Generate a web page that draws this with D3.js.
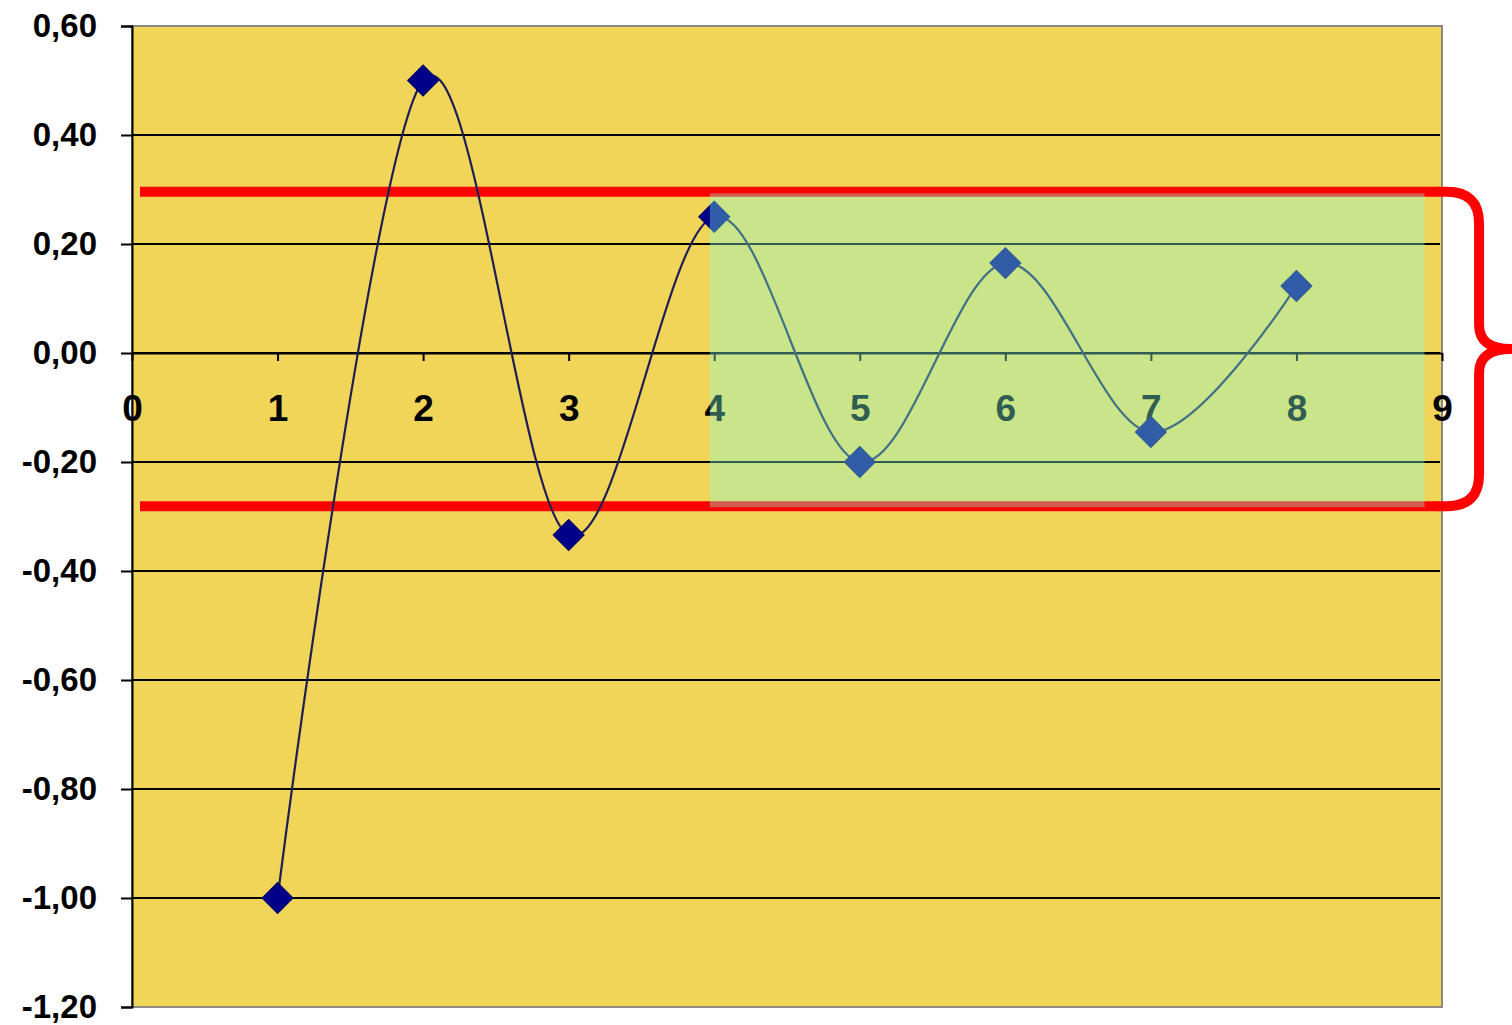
<!DOCTYPE html>
<html>
<head>
<meta charset="utf-8">
<script src="https://cdn.jsdelivr.net/npm/d3@7"></script>
<style>
  html, body { margin: 0; padding: 0; background: #ffffff; }
  svg { display: block; }
  .tick text { font-family: "Liberation Sans", Arial, sans-serif; font-weight: bold; fill: #000; }
</style>
</head>
<body>
<script>
// data
var xValues = [1, 2, 3, 4, 5, 6, 7, 8];
var yValues = [-1.00, 0.50, -0.334, 0.25, -0.20, 0.165, -0.145, 0.123];
var yTicks = [0.6, 0.4, 0.2, 0, -0.2, -0.4, -0.6, -0.8, -1.0, -1.2];
var xTicks = [0, 1, 2, 3, 4, 5, 6, 7, 8, 9];
var bandLimits = [0.296, -0.281];      // red limit lines
var bandXRange = [0.055, 8.98];        // extent of the red lines
var zoneX = [3.97, 8.88];              // green zone
var zoneY = [0.293, -0.283];

var width = 1512, height = 1025;
var margin = { top: 26, right: 70, bottom: 18, left: 132 };

var svg = d3.select("body").append("svg")
    .attr("width", width)
    .attr("height", height);

var xScale = d3.scaleLinear()
    .domain([0, 9])
    .range([margin.left, width - margin.right]);

var yScale = d3.scaleLinear()
    .domain([-1.2, 0.6])
    .range([height - margin.bottom, margin.top]);

var fmt = d3.formatLocale({ decimal: ",", thousands: ".", grouping: [3], currency: ["", ""], minus: "-" }).format(".2f");

// plot area
svg.append("rect")
    .attr("x", xScale(0))
    .attr("y", yScale(0.6))
    .attr("width", xScale(9) - xScale(0))
    .attr("height", yScale(-1.2) - yScale(0.6))
    .attr("fill", "#f1d559")
    .attr("stroke", "#8c8a80")
    .attr("stroke-width", 2);

// gridlines
svg.append("g")
  .selectAll("line")
  .data(yTicks.filter(function(d) { return d < 0.59 && d > -1.19; }))
  .enter()
  .append("line")
    .attr("x1", xScale(0))
    .attr("x2", xScale(9) - 2)
    .attr("y1", function(d) { return yScale(d); })
    .attr("y2", function(d) { return yScale(d); })
    .attr("stroke", "#000")
    .attr("stroke-width", 2);

// y axis
var yAxis = d3.axisLeft(yScale)
    .tickValues(yTicks)
    .tickFormat(fmt)
    .tickSize(11)
    .tickPadding(24);

var gy = svg.append("g")
    .attr("transform", "translate(" + xScale(0) + ",0)")
    .call(yAxis);
gy.select(".domain").attr("stroke", "#000").attr("stroke-width", 2);
gy.selectAll(".tick line").attr("stroke", "#000").attr("stroke-width", 2);
gy.selectAll(".tick text").style("font-size", "33px").attr("dy", "0.33em");

// x axis through zero
var xAxis = d3.axisBottom(xScale)
    .tickValues(xTicks)
    .tickFormat(d3.format("d"))
    .tickSizeInner(8)
    .tickSizeOuter(0)
    .tickPadding(34);

var gx = svg.append("g")
    .attr("transform", "translate(0," + yScale(0) + ")")
    .call(xAxis);
gx.select(".domain").attr("stroke", "#000").attr("stroke-width", 2);
gx.selectAll(".tick line").attr("stroke", "#000").attr("stroke-width", 2);
gx.selectAll(".tick text").style("font-size", "37px");

// red limit lines
svg.append("g")
  .selectAll("line")
  .data(bandLimits)
  .enter()
  .append("line")
    .attr("x1", xScale(bandXRange[0]))
    .attr("x2", xScale(bandXRange[1]))
    .attr("y1", function(d) { return yScale(d); })
    .attr("y2", function(d) { return yScale(d); })
    .attr("stroke", "#ff0000")
    .attr("stroke-width", 10);

// smoothed series
var line = d3.line()
    .x(function(d, i) { return xScale(xValues[i]); })
    .y(function(d) { return yScale(d); })
    .curve(d3.curveCardinal.tension(0));

svg.append("path")
    .datum(yValues)
    .attr("d", line)
    .attr("fill", "none")
    .attr("stroke", "#1e1e55")
    .attr("stroke-width", 2.2);

// diamond markers
svg.append("g")
  .selectAll("path")
  .data(yValues)
  .enter()
  .append("path")
    .attr("d", d3.symbol(d3.symbolSquare, 480))
    .attr("transform", function(d, i) {
      return "translate(" + xScale(xValues[i]) + "," + yScale(d) + ") rotate(45)";
    })
    .attr("fill", "#000088")
    .attr("stroke", "#000066")
    .attr("stroke-width", 1);

// curly brace on the right
var bx0 = xScale(bandXRange[1]) - 2;
var yTop = yScale(bandLimits[0]), yBot = yScale(bandLimits[1]);
var yMid = (yTop + yBot) / 2;
var bx = bx0 + 42, tip = bx0 + 74, r = 32;
var brace = d3.path();
brace.moveTo(bx0, yTop);
brace.lineTo(bx - r, yTop);
brace.quadraticCurveTo(bx, yTop, bx, yTop + r);
brace.lineTo(bx, yMid - 24);
brace.quadraticCurveTo(bx, yMid, tip, yMid);
brace.quadraticCurveTo(bx, yMid, bx, yMid + 24);
brace.lineTo(bx, yBot - r);
brace.quadraticCurveTo(bx, yBot, bx - r, yBot);
brace.lineTo(bx0, yBot);

svg.append("path")
    .attr("d", brace.toString())
    .attr("fill", "none")
    .attr("stroke", "#ff0000")
    .attr("stroke-width", 10)
    .attr("stroke-linejoin", "round");

// translucent green zone on top
svg.append("rect")
    .attr("x", xScale(zoneX[0]))
    .attr("y", yScale(zoneY[0]))
    .attr("width", xScale(zoneX[1]) - xScale(zoneX[0]))
    .attr("height", yScale(zoneY[1]) - yScale(zoneY[0]))
    .attr("fill", "#86fee0")
    .attr("fill-opacity", 0.36);
</script>
</body>
</html>
